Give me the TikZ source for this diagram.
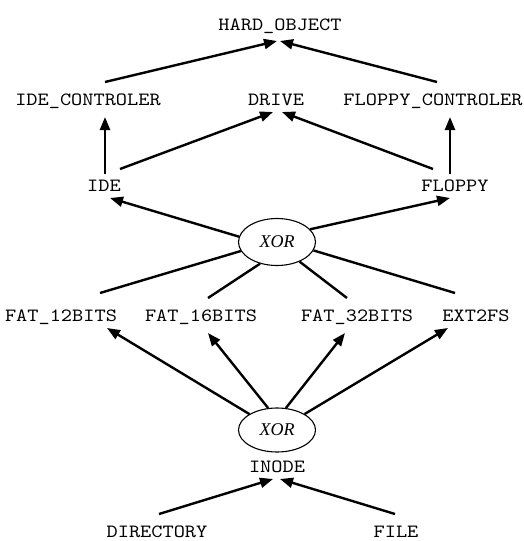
\documentclass[tikz,border=0pt]{standalone}
\usepackage{fontspec}
\setmainfont{Liberation Serif}
\setmonofont{lmmono10-regular.otf}[FakeStretch=1.14]
\usetikzlibrary{arrows.meta,shapes.geometric}
\begin{document}
\begin{tikzpicture}[x=1pt,y=-1pt,
  lbl/.style={inner sep=0pt, text height=11.4pt, text depth=0pt,
    font=\ttfamily\fontsize{18.7}{20}\selectfont},
  xorbox/.style={ellipse, draw, line width=1.1pt, minimum width=77pt,
    minimum height=47pt, inner sep=0pt,
    font=\itshape\fontsize{18}{20}\selectfont},
  ln/.style={line width=2.4pt},
  arr/.style={ln, -{Triangle[length=13pt,width=10pt]}}]
\useasboundingbox (0,0) rectangle (524,541);

% nodes
\node[lbl] (ho) at (280,25) {HARD\_OBJECT};
\node[lbl] (ic) at (88,100) {IDE\_CONTROLER};
\node[lbl] (dr) at (276,100) {DRIVE};
\node[lbl] (fc) at (433,100) {FLOPPY\_CONTROLER};
\node[lbl] (ide) at (104,186) {IDE};
\node[lbl] (fl) at (455,186) {FLOPPY};
\node[xorbox] (x1) at (277,242) {XOR};
\node[lbl] (f12) at (61,316) {FAT\_12BITS};
\node[lbl] (f16) at (201,316) {FAT\_16BITS};
\node[lbl] (f32) at (357,316) {FAT\_32BITS};
\node[lbl] (ext) at (476,316) {EXT2FS};
\node[xorbox, minimum height=44pt] (x2) at (277,430) {XOR};
\node[lbl] (ino) at (277,467) {INODE};
\node[lbl] (dir) at (157,532) {DIRECTORY};
\node[lbl] (fil) at (396,532) {FILE};

% top level
\draw[arr] ([shift={(17,-18)}]ic.center) -- ([shift={(-3,16)}]ho.center);
\draw[arr] ([shift={(4,-18)}]fc.center) -- ([shift={(0,16)}]ho.center);

% controllers and drive
\draw[arr] ([shift={(1,-12)}]ide.center) -- ([shift={(17,17)}]ic.center);
\draw[arr] ([shift={(16,-17)}]ide.center) -- ([shift={(-3,12)}]dr.center);
\draw[arr] ([shift={(-22,-17)}]fl.center) -- ([shift={(6,12)}]dr.center);
\draw[arr] ([shift={(-5,-12)}]fl.center) -- ([shift={(17,17)}]fc.center);

% first XOR
\draw[arr] (x1.172) -- ([shift={(6,12)}]ide.center);
\draw[arr] (x1.21) -- ([shift={(-5,12)}]fl.center);
\draw[ln] (x1.194) -- ([shift={(39,-23)}]f12.center);
\draw[ln] (x1.232) -- ([shift={(7,-18)}]f16.center);
\draw[ln] (x1.319) -- ([shift={(-10,-18)}]f32.center);
\draw[ln] (x1.347) -- ([shift={(-21,-23)}]ext.center);

% second XOR
\draw[arr] (x2.150) -- ([shift={(46,12)}]f12.center);
\draw[arr] (x2.112) -- ([shift={(7,17)}]f16.center);
\draw[arr] (x2.68) -- ([shift={(-12,17)}]f32.center);
\draw[arr] (x2.30) -- ([shift={(-28,12)}]ext.center);

% inode
\draw[arr] ([shift={(2,-18)}]dir.center) -- ([shift={(-4,12)}]ino.center);
\draw[arr] ([shift={(-1,-18)}]fil.center) -- ([shift={(3,12)}]ino.center);
\end{tikzpicture}
\end{document}
